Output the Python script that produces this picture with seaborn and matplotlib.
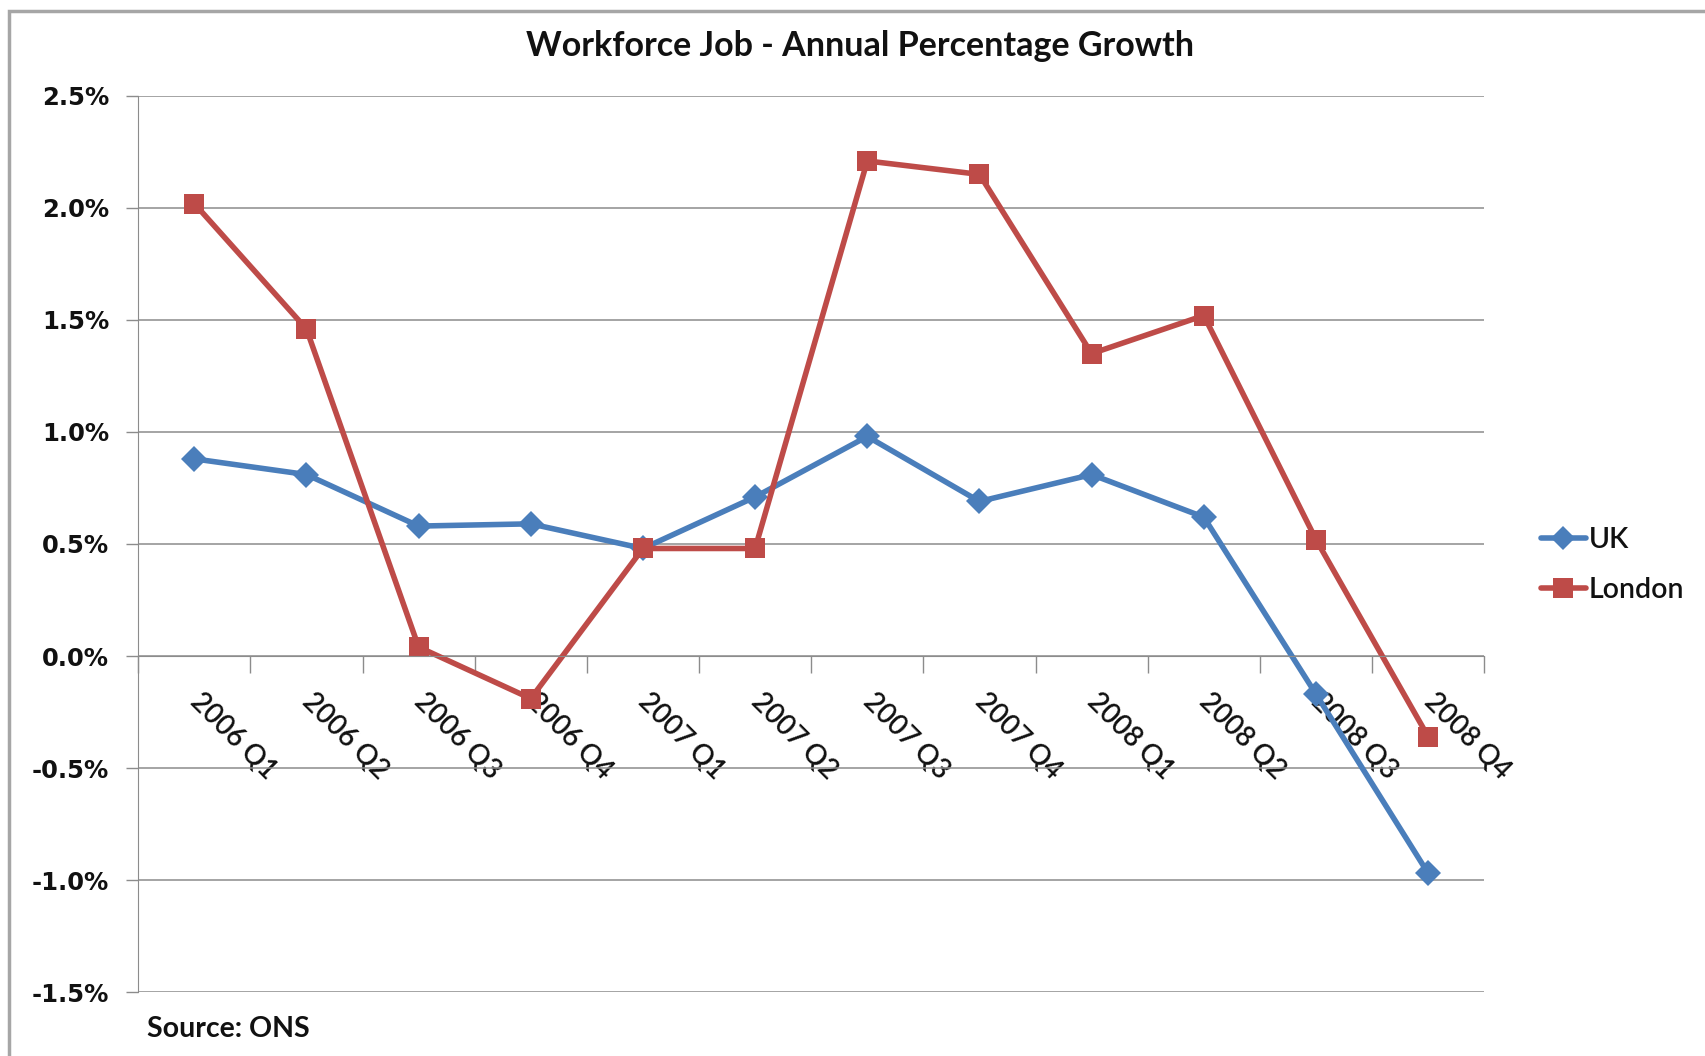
import numpy as np
import pandas as pd
import matplotlib
matplotlib.use('Agg')
import matplotlib.pyplot as plt
import seaborn as sns
from matplotlib.lines import Line2D
from matplotlib.patches import Rectangle
from matplotlib.ticker import FuncFormatter

quarters = ['2006 Q1', '2006 Q2', '2006 Q3', '2006 Q4',
            '2007 Q1', '2007 Q2', '2007 Q3', '2007 Q4',
            '2008 Q1', '2008 Q2', '2008 Q3', '2008 Q4']
uk = [0.88, 0.81, 0.58, 0.59, 0.48, 0.71, 0.98, 0.69, 0.81, 0.62, -0.17, -0.97]
london = [2.02, 1.46, 0.04, -0.19, 0.48, 0.48, 2.21, 2.15, 1.35, 1.52, 0.52, -0.36]
series = ['UK', 'London']
colors = {'UK': '#4A7EBB', 'London': '#BE4B48'}
markers = {'UK': 'D', 'London': 's'}

df = pd.DataFrame({'quarter': quarters * 2,
                   'growth': uk + london,
                   'series': ['UK'] * len(quarters) + ['London'] * len(quarters)})

sns.set_style('white')
plt.rcParams['font.family'] = ['Lato', 'DejaVu Sans']

fig = plt.figure(figsize=(17.06, 10.56), dpi=100)
ax = fig.add_axes([0.081, 0.0606, 0.789, 0.8485])

sns.lineplot(data=df, x='quarter', y='growth', hue='series', style='series',
             palette=colors, markers=markers, dashes=False, linewidth=4,
             markersize=13, markeredgewidth=0, legend=False, ax=ax, sort=False)
# square a bit larger than diamond
for ln in ax.get_lines():
    if ln.get_marker() == 's':
        ln.set_markersize(15)

ax.set_ylim(-1.5, 2.5)
ax.set_xlim(-0.5, len(quarters) - 0.5)
ax.set_yticks(np.arange(-1.5, 2.51, 0.5))
ax.yaxis.set_major_formatter(FuncFormatter(lambda v, p: f'{v:.1f}%'))
ax.yaxis.grid(True, color='#8C8C8C', linewidth=1.1)
ax.set_axisbelow(True)
ax.tick_params(axis='y', which='major', length=9, width=1, color='#8C8C8C',
               direction='out', left=True, labelsize=17.5, pad=12)
for lbl in ax.get_yticklabels():
    lbl.set_fontfamily('DejaVu Sans')
    lbl.set_fontweight('bold')
    lbl.set_color('#111111')

# category axis at zero, ticks between categories
ax.spines['bottom'].set_position(('data', 0))
ax.spines['bottom'].set_color('#8C8C8C')
ax.spines['left'].set_color('#8C8C8C')
ax.spines['top'].set_visible(False)
ax.spines['right'].set_visible(False)
ax.set_xticks(np.arange(-0.5, len(quarters), 1.0))
ax.set_xticklabels([])
ax.set_xticks(np.arange(len(quarters)), minor=True)
ax.set_xticklabels(quarters, minor=True, rotation=-45, ha='left', va='center',
                   rotation_mode='anchor', fontsize=20, fontweight='semibold',
                   color='#111111')
ax.tick_params(axis='x', which='major', length=12, width=1, color='#8C8C8C',
               direction='out', bottom=True)
ax.tick_params(axis='x', which='minor', length=0, pad=30, bottom=True)
ax.set_xlabel('')
ax.set_ylabel('')

fig.text(0.504, 0.956, 'Workforce Job - Annual Percentage Growth',
         ha='center', va='center', fontsize=24.5, fontweight='bold', color='#111111')
fig.text(0.086, 0.026, 'Source: ONS', ha='left', va='center', fontsize=20.5,
         fontweight='bold', color='#111111')

handles = [Line2D([0], [0], color=colors[s], marker=markers[s], linewidth=4,
                  markersize=12 if s == 'UK' else 15, markeredgewidth=0) for s in series]
leg = fig.legend(handles, series, loc='center left', bbox_to_anchor=(0.888, 0.465),
                 frameon=False, fontsize=20.5, handlelength=1.6, handletextpad=0.1,
                 labelspacing=0.85)
for t in leg.get_texts():
    t.set_fontweight('semibold')
    t.set_color('#111111')

fig.patches.append(Rectangle((0.005, -0.01), 1.0, 1.005 - 0.005, transform=fig.transFigure,
                             fill=False, edgecolor='#A6A6A6', linewidth=2.5))

fig.savefig('out.png', dpi=100)
